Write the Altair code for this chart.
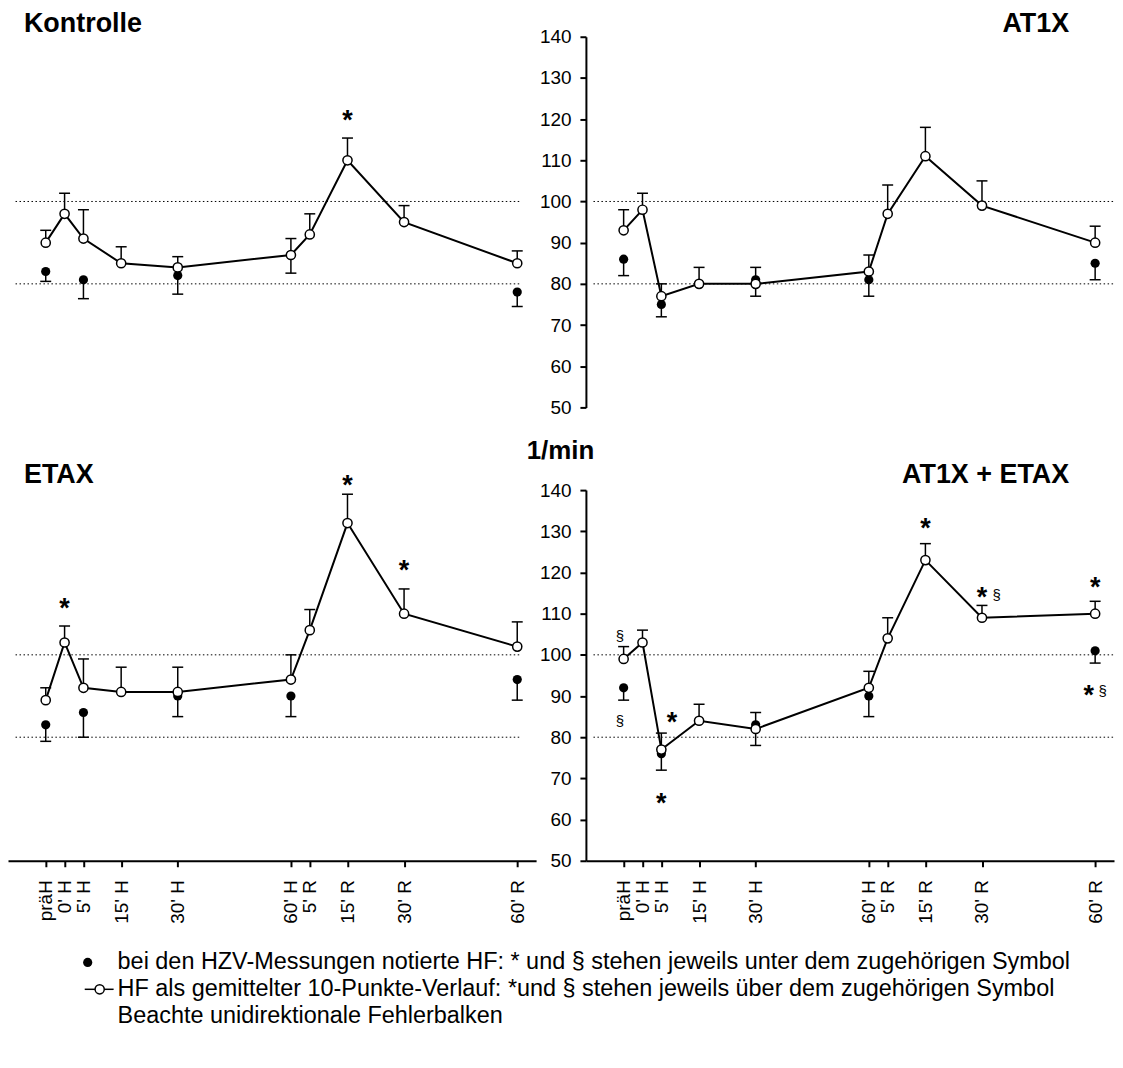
import json
import altair as alt
import pandas as pd

# ---------------- data ----------------
positions = [-5, 0, 5, 15, 30, 60, 65, 75, 90, 120]
tick_labels = ["präH", "0' H", "5' H", "15' H", "30' H", "60' H", "5' R", "15' R", "30' R", "60' R"]
hzv_positions = [-5, 5, 30, 60, 120]
y_ticks = [50, 60, 70, 80, 90, 100, 110, 120, 130, 140]
ref_levels = [80, 100]

kontrolle_hf = [90, 97, 91, 85, 84, 87, 92, 110, 95, 85]
kontrolle_hf_sem = [3, 5, 7, 4, 2.6, 4, 5, 5.4, 4, 3]
kontrolle_hzv = [83, 81, 82, 87, 78]
kontrolle_hzv_sem = [2.4, 4.6, 4.5, 4.4, 3.5]

at1x_hf = [93, 98, 77, 80, 80, 83, 97, 111, 99, 90]
at1x_hf_sem = [5, 4, 3, 4, 4, 4, 7, 7, 6, 4]
at1x_hzv = [86, 75, 81, 81, 85]
at1x_hzv_sem = [4, 3, 4, 4, 4]

etax_hf = [89, 103, 92, 91, 91, 94, 106, 132, 110, 102]
etax_hf_sem = [3, 4, 7, 6, 6, 6, 5, 7, 6, 6]
etax_hzv = [83, 86, 90, 90, 94]
etax_hzv_sem = [4, 6, 5, 5, 5]

combo_hf = [99, 103, 77, 84, 82, 92, 104, 123, 109, 110]
combo_hf_sem = [3, 3, 4, 4, 4, 4, 5, 4, 3, 3]
combo_hzv = [92, 76, 83, 90, 101]
combo_hzv_sem = [3, 4, 5, 5, 3]

# significance marks (x in minutes, y in 1/min)
kontrolle_star_x = [75]
kontrolle_star_y = [121.3]
at1x_star_x = []
at1x_star_y = []
etax_star_x = [0, 75, 90]
etax_star_y = [112.7, 142.7, 122.0]
combo_star_x = [7.8, 5, 75, 90, 120, 118.3]
combo_star_y = [85.2, 65.5, 132.3, 115.4, 117.8, 91.6]
combo_para_x = [-6, -6, 93.9, 122]
combo_para_y = [104.5, 84.0, 114.6, 91.2]

legend_texts = [
    "bei den HZV-Messungen notierte HF: * und § stehen jeweils unter dem zugehörigen Symbol",
    "HF als gemittelter 10-Punkte-Verlauf: *und § stehen jeweils über dem zugehörigen Symbol",
    "Beachte unidirektionale Fehlerbalken",
]

# ---------------- styling ----------------
FONT = "Liberation Sans"
X_DOMAIN = [-15, 125]
Y_DOMAIN = [50, 140]
W, H = 530, 372
CAP = "M-1,0H1"
PT = 85

label_expr = f"{json.dumps(tick_labels, ensure_ascii=False)}[indexof({json.dumps(positions)}, datum.value)]"


def x_enc(show):
    sc = alt.Scale(domain=X_DOMAIN, nice=False, zero=False)
    if show:
        axis = alt.Axis(values=positions, labelExpr=label_expr, labelAngle=-90, labelAlign="right",
                        labelBaseline="middle", labelFont=FONT, labelFontSize=19, labelColor="black",
                        labelPadding=13, labelOverlap=False, labelFlush=False, tickSize=6, tickWidth=2,
                        tickColor="black", domainWidth=2, domainColor="black", grid=False, title=None)
        return alt.X("x:Q", scale=sc, axis=axis)
    return alt.X("x:Q", scale=sc, axis=None)


def y_enc(show, title=False):
    sc = alt.Scale(domain=Y_DOMAIN, nice=False, zero=False)
    if show:
        kw = dict(values=y_ticks, labelFont=FONT, labelFontSize=19, labelColor="black", labelPadding=9,
                  labelOverlap=False, labelFlush=False,
                  tickSize=6, tickWidth=2, tickColor="black", domainWidth=2, domainColor="black", grid=False)
        if title:
            kw.update(title="1/min", titleAngle=0, titleAlign="center", titleBaseline="middle", titleX=-26,
                      titleY=-40, titleFont=FONT, titleFontSize=26, titleFontWeight="bold", titleColor="black")
        else:
            kw.update(title=None)
        return alt.Y("y:Q", scale=sc, axis=alt.Axis(**kw))
    return alt.Y("y:Q", scale=sc, axis=None)


def panel(name, hf, hf_sem, hzv, hzv_sem, star_x, star_y, para_x, para_y, ref_end,
          show_x, show_y, title_right, title_y, y_title=False, legend=False):
    X = x_enc(show_x)
    Y = y_enc(show_y, y_title)
    hf_df = pd.DataFrame({"x": positions, "y": hf, "y2": [v + s for v, s in zip(hf, hf_sem)]})
    hzv_df = pd.DataFrame({"x": hzv_positions, "y": hzv, "y2": [v - s for v, s in zip(hzv, hzv_sem)]})
    hf_cap = pd.DataFrame({"x": positions, "y": [v + s for v, s in zip(hf, hf_sem)]})
    hzv_cap = pd.DataFrame({"x": hzv_positions, "y": [v - s for v, s in zip(hzv, hzv_sem)]})
    ref_df = pd.DataFrame({"x": [-13] * len(ref_levels), "x2": [ref_end] * len(ref_levels), "y": ref_levels})

    layers = []
    layers.append(alt.Chart(ref_df).mark_rule(color="black", strokeWidth=1, strokeDash=[1.5, 2.5])
                  .encode(x=X, x2=alt.X2("x2:Q"), y=Y))
    # HF error bars (upward)
    layers.append(alt.Chart(hf_df).mark_rule(color="black", strokeWidth=1.5)
                  .encode(x=X, y=Y, y2=alt.Y2("y2:Q")))
    layers.append(alt.Chart(hf_cap).mark_point(shape=CAP, size=121, filled=False, stroke="black",
                                                strokeWidth=1.5, opacity=1)
                  .encode(x=X, y=Y))
    # HZV error bars (downward)
    layers.append(alt.Chart(hzv_df).mark_rule(color="black", strokeWidth=1.5)
                  .encode(x=X, y=Y, y2=alt.Y2("y2:Q")))
    layers.append(alt.Chart(hzv_cap).mark_point(shape=CAP, size=121, filled=False, stroke="black",
                                                 strokeWidth=1.5, opacity=1)
                  .encode(x=X, y=Y))
    layers.append(alt.Chart(hzv_df).mark_point(shape="circle", filled=True, color="black", size=PT, opacity=1)
                  .encode(x=X, y=Y))
    layers.append(alt.Chart(hf_df).mark_line(color="black", strokeWidth=2).encode(x=X, y=Y))
    layers.append(alt.Chart(hf_df).mark_point(shape="circle", filled=True, fill="white", stroke="black",
                                               strokeWidth=1.5, size=PT, opacity=1)
                  .encode(x=X, y=Y))
    if star_x:
        sdf = pd.DataFrame({"x": star_x, "y": star_y, "t": ["*"] * len(star_x)})
        layers.append(alt.Chart(sdf).mark_text(font=FONT, fontSize=27, fontWeight="bold", baseline="middle",
                                               align="center", dy=7, color="black")
                      .encode(x=X, y=Y, text="t:N"))
    if para_x:
        pdf = pd.DataFrame({"x": para_x, "y": para_y, "t": ["§"] * len(para_x)})
        layers.append(alt.Chart(pdf).mark_text(font=FONT, fontSize=15, baseline="middle", align="center",
                                               color="black")
                      .encode(x=X, y=Y, text="t:N"))
    tdf = pd.DataFrame({"t": [name]})
    if title_right:
        layers.append(alt.Chart(tdf).mark_text(font=FONT, fontSize=27, fontWeight="bold", align="right",
                                               baseline="middle", color="black")
                      .encode(x=alt.value(485), y=alt.value(title_y), text="t:N"))
    else:
        layers.append(alt.Chart(tdf).mark_text(font=FONT, fontSize=27, fontWeight="bold", align="left",
                                               baseline="middle", color="black")
                      .encode(x=alt.value(16), y=alt.value(title_y), text="t:N"))
    if legend:
        one = pd.DataFrame({"k": [0]})
        layers.append(alt.Chart(one).mark_point(shape="circle", filled=True, color="black", size=PT, opacity=1)
                      .encode(x=alt.value(80), y=alt.value(474)))
        layers.append(alt.Chart(one).mark_rule(color="black", strokeWidth=1.5)
                      .encode(x=alt.value(77), x2=alt.value(106), y=alt.value(501)))
        layers.append(alt.Chart(one).mark_point(shape="circle", filled=True, fill="white", stroke="black",
                                                strokeWidth=1.5, size=PT, opacity=1)
                      .encode(x=alt.value(92), y=alt.value(501)))
        for i, txt in enumerate(legend_texts):
            ldf = pd.DataFrame({"t": [txt]})
            layers.append(alt.Chart(ldf).mark_text(font=FONT, fontSize=23.5, align="left", baseline="middle",
                                                   color="black")
                          .encode(x=alt.value(110), y=alt.value(474 + 27 * i), text="t:N"))
    return alt.layer(*layers).properties(width=W, height=H)


kontrolle = panel("Kontrolle", kontrolle_hf, kontrolle_hf_sem, kontrolle_hzv, kontrolle_hzv_sem,
                  kontrolle_star_x, kontrolle_star_y, [], [], 121, False, False, False, -13)
at1x = panel("AT1X", at1x_hf, at1x_hf_sem, at1x_hzv, at1x_hzv_sem,
             at1x_star_x, at1x_star_y, [], [], 125, False, True, True, -13)
etax = panel("ETAX", etax_hf, etax_hf_sem, etax_hzv, etax_hzv_sem,
             etax_star_x, etax_star_y, [], [], 121, True, False, False, -15, legend=True)
combo = panel("AT1X + ETAX", combo_hf, combo_hf_sem, combo_hzv, combo_hzv_sem,
              combo_star_x, combo_star_y, combo_para_x, combo_para_y, 125, True, True, True, -15, y_title=True)

chart = alt.concat(kontrolle, at1x, etax, combo, columns=2, spacing={"row": 83, "column": 50},
                   bounds="flush", padding={"left": 0, "top": 0, "right": 0, "bottom": 0}
                   ).configure(background="white").configure_view(strokeWidth=0, stroke=None)

chart.save("out.html", embed_options={"renderer": "svg", "actions": False})
